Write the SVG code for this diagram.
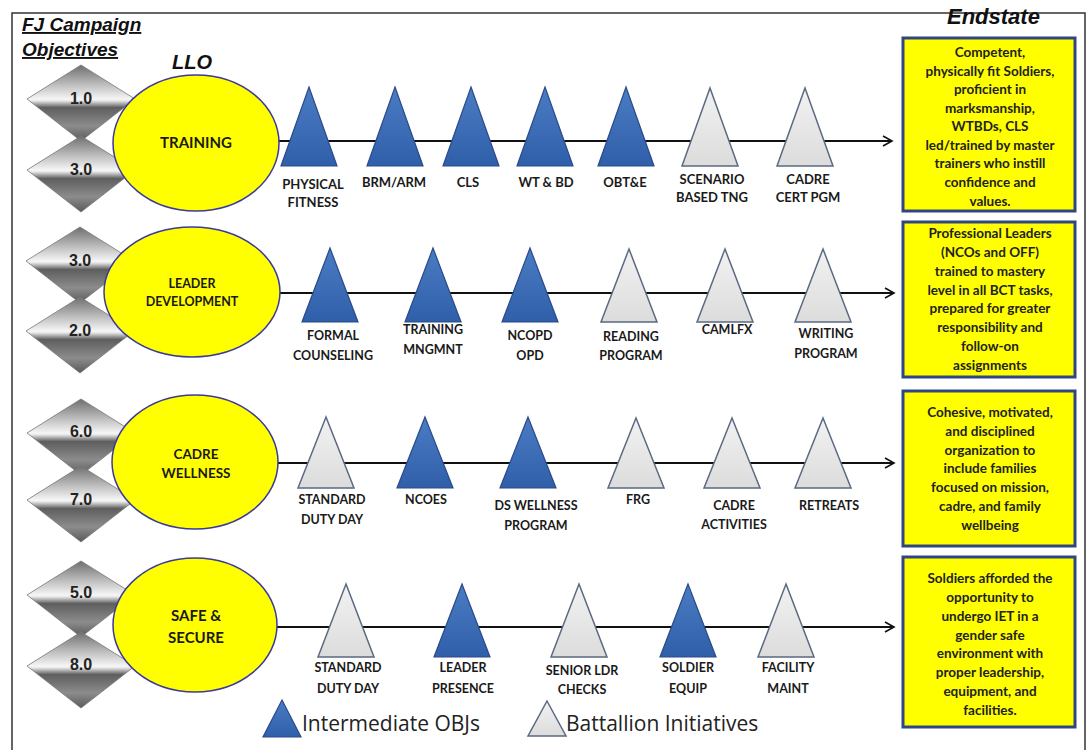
<svg xmlns="http://www.w3.org/2000/svg" width="1089" height="750" viewBox="0 0 1089 750">
<defs>
<linearGradient id="dg" x1="0" y1="0" x2="0" y2="1">
<stop offset="0" stop-color="#6e6e6e"/>
<stop offset="0.28" stop-color="#c4c4c4"/>
<stop offset="0.45" stop-color="#f6f6f6"/>
<stop offset="0.47" stop-color="#e8e8e8"/>
<stop offset="0.56" stop-color="#5e5e5e"/>
<stop offset="0.8" stop-color="#8c8c8c"/>
<stop offset="1" stop-color="#5a5a5a"/>
</linearGradient>
<linearGradient id="bg" x1="0" y1="0" x2="0" y2="1">
<stop offset="0" stop-color="#4a7cc4"/>
<stop offset="1" stop-color="#2f5fa8"/>
</linearGradient>
<linearGradient id="gg" x1="0" y1="0" x2="0" y2="1">
<stop offset="0" stop-color="#f2f2f2"/>
<stop offset="1" stop-color="#dcdcdc"/>
</linearGradient>
<marker id="arr" markerWidth="12" markerHeight="12" refX="10" refY="6" orient="auto" markerUnits="userSpaceOnUse">
<path d="M1,1 L10,6 L1,11" fill="none" stroke="#111" stroke-width="1.6"/>
</marker>
<symbol id="dia" viewBox="0 0 108 76" overflow="visible">
<polygon points="54,0 108,34 54,76 0,34" fill="url(#dg)" stroke="#777" stroke-width="0.8"/>
</symbol>
</defs>
<style>
.hdr{font-family:"Liberation Sans",Arial,sans-serif;font-weight:bold;font-style:italic;fill:#111}
.num{font-family:"Liberation Sans",Arial,sans-serif;font-weight:bold;font-size:16px;fill:#222;text-anchor:middle}
.ell{fill:#ffff00;stroke:#3a3a9a;stroke-width:1.5}
.lbl{font-family:Lato,"Open Sans",sans-serif;font-weight:bold;font-size:12.5px;fill:#1a1a1a;text-anchor:middle}
.r1{font-size:13px}
.e15{font-size:15px}
.e13{font-size:13.5px}
.blue{fill:url(#bg);stroke:#2a4a8a;stroke-width:1.2}
.gray{fill:url(#gg);stroke:#5a6a80;stroke-width:1.5}
.conn{stroke:#111;stroke-width:2;fill:none;marker-end:url(#arr)}
.box{fill:#ffff00;stroke:#2f4680;stroke-width:3}
.bt{font-family:Lato,"Open Sans",sans-serif;font-weight:bold;font-size:13.5px;fill:#222;text-anchor:middle}
.leg{font-family:"Open Sans",Lato,sans-serif;font-size:21px;fill:#222}
</style>
<rect x="0" y="0" width="1089" height="750" fill="#ffffff"/>
<rect x="12" y="13" width="1073" height="745" fill="none" stroke="#333" stroke-width="1.5"/>

<g id="header">
<text class="hdr" x="22" y="31" font-size="19" text-decoration="underline">FJ Campaign</text>
<text class="hdr" x="22" y="56" font-size="19" text-decoration="underline">Objectives</text>
<text class="hdr" x="172" y="69" font-size="20">LLO</text>
<text class="hdr" x="947" y="24" font-size="22">Endstate</text>
</g>

<g id="connectors">
<line class="conn" x1="278" y1="141" x2="892" y2="141"/>
<line class="conn" x1="280" y1="293" x2="894" y2="293"/>
<line class="conn" x1="277" y1="463" x2="894" y2="463"/>
<line class="conn" x1="277" y1="627" x2="894" y2="627"/>
</g>

<!-- Row 1 -->
<g id="obj-1-0"><use href="#dia" x="27" y="65" width="108" height="76"/><text class="num" x="81" y="104">1.0</text></g>
<g id="obj-3-0a"><use href="#dia" x="27" y="136" width="108" height="76"/><text class="num" x="81" y="175">3.0</text></g>
<g id="llo-training"><ellipse class="ell" cx="196" cy="143" rx="83" ry="68"/><text class="lbl e15" x="196" y="148">TRAINING</text></g>

<!-- Row 2 -->
<g id="obj-3-0b"><use href="#dia" x="26" y="227" width="108" height="76"/><text class="num" x="80" y="266">3.0</text></g>
<g id="obj-2-0"><use href="#dia" x="26" y="297" width="108" height="76"/><text class="num" x="80" y="336">2.0</text></g>
<g id="llo-leader"><ellipse class="ell" cx="192" cy="292" rx="88" ry="65"/><text class="lbl" x="192" y="288">LEADER</text><text class="lbl" x="192" y="306">DEVELOPMENT</text></g>

<!-- Row 3 -->
<g id="obj-6-0"><use href="#dia" x="27" y="399" width="108" height="76"/><text class="num" x="81" y="437">6.0</text></g>
<g id="obj-7-0"><use href="#dia" x="27" y="466" width="108" height="76"/><text class="num" x="81" y="505">7.0</text></g>
<g id="llo-cadre"><ellipse class="ell" cx="195" cy="462" rx="83" ry="67"/><text class="lbl e13" x="196" y="459">CADRE</text><text class="lbl e13" x="196" y="478">WELLNESS</text></g>

<!-- Row 4 -->
<g id="obj-5-0"><use href="#dia" x="27" y="561" width="108" height="76"/><text class="num" x="81" y="598">5.0</text></g>
<g id="obj-8-0"><use href="#dia" x="27" y="632" width="108" height="76"/><text class="num" x="81" y="670">8.0</text></g>
<g id="llo-safe"><ellipse class="ell" cx="195" cy="625" rx="82" ry="67"/><text class="lbl e15" x="196" y="621">SAFE &amp;</text><text class="lbl e15" x="196" y="643">SECURE</text></g>

<!-- Row 1 initiatives -->
<g id="r1-physical"><polygon class="blue" points="309,87 337,166 281,166"/><text class="lbl r1" x="313" y="189">PHYSICAL</text><text class="lbl r1" x="313" y="207">FITNESS</text></g>
<g id="r1-brm"><polygon class="blue" points="395,87 423,166 367,166"/><text class="lbl r1" x="394" y="187">BRM/ARM</text></g>
<g id="r1-cls"><polygon class="blue" points="471,87 499,166 443,166"/><text class="lbl r1" x="468" y="187">CLS</text></g>
<g id="r1-wt"><polygon class="blue" points="545,87 573,166 517,166"/><text class="lbl r1" x="546" y="187">WT &amp; BD</text></g>
<g id="r1-obt"><polygon class="blue" points="626,87 654,166 598,166"/><text class="lbl r1" x="625" y="187">OBT&amp;E</text></g>
<g id="r1-scen"><polygon class="gray" points="710,88 738,166 682,166"/><text class="lbl r1" x="712" y="184">SCENARIO</text><text class="lbl r1" x="712" y="202">BASED TNG</text></g>
<g id="r1-cadre"><polygon class="gray" points="805,88 833,166 777,166"/><text class="lbl r1" x="808" y="184">CADRE</text><text class="lbl r1" x="808" y="202">CERT PGM</text></g>

<!-- Row 2 initiatives -->
<g id="r2-formal"><polygon class="blue" points="330,248 358,322 302,322"/><text class="lbl" x="333" y="340">FORMAL</text><text class="lbl" x="333" y="360">COUNSELING</text></g>
<g id="r2-training"><polygon class="blue" points="433,248 461,322 405,322"/><text class="lbl" x="433" y="334">TRAINING</text><text class="lbl" x="433" y="354">MNGMNT</text></g>
<g id="r2-ncopd"><polygon class="blue" points="530,248 558,322 502,322"/><text class="lbl" x="530" y="340">NCOPD</text><text class="lbl" x="530" y="360">OPD</text></g>
<g id="r2-reading"><polygon class="gray" points="629,249 657,322 601,322"/><text class="lbl" x="631" y="341">READING</text><text class="lbl" x="631" y="360">PROGRAM</text></g>
<g id="r2-camlfx"><polygon class="gray" points="725,249 753,322 697,322"/><text class="lbl" x="727" y="334">CAMLFX</text></g>
<g id="r2-writing"><polygon class="gray" points="823,249 851,322 795,322"/><text class="lbl" x="826" y="338">WRITING</text><text class="lbl" x="826" y="358">PROGRAM</text></g>

<!-- Row 3 initiatives -->
<g id="r3-std"><polygon class="gray" points="326,417 354,488 298,488"/><text class="lbl" x="332" y="504">STANDARD</text><text class="lbl" x="332" y="524">DUTY DAY</text></g>
<g id="r3-ncoes"><polygon class="blue" points="425,417 453,488 397,488"/><text class="lbl" x="426" y="504">NCOES</text></g>
<g id="r3-ds"><polygon class="blue" points="528,417 556,488 500,488"/><text class="lbl" x="536" y="510">DS WELLNESS</text><text class="lbl" x="536" y="530">PROGRAM</text></g>
<g id="r3-frg"><polygon class="gray" points="636,418 664,488 608,488"/><text class="lbl" x="638" y="504">FRG</text></g>
<g id="r3-cadre"><polygon class="gray" points="732,418 760,488 704,488"/><text class="lbl" x="734" y="510">CADRE</text><text class="lbl" x="734" y="529">ACTIVITIES</text></g>
<g id="r3-retreats"><polygon class="gray" points="823,418 851,488 795,488"/><text class="lbl" x="829" y="510">RETREATS</text></g>

<!-- Row 4 initiatives -->
<g id="r4-std"><polygon class="gray" points="346,584 374,657 318,657"/><text class="lbl" x="348" y="672">STANDARD</text><text class="lbl" x="348" y="693">DUTY DAY</text></g>
<g id="r4-leader"><polygon class="blue" points="462,584 490,657 434,657"/><text class="lbl" x="463" y="672">LEADER</text><text class="lbl" x="463" y="693">PRESENCE</text></g>
<g id="r4-senior"><polygon class="gray" points="579,584 607,657 551,657"/><text class="lbl" x="582" y="675">SENIOR LDR</text><text class="lbl" x="582" y="694">CHECKS</text></g>
<g id="r4-soldier"><polygon class="blue" points="688,584 716,657 660,657"/><text class="lbl" x="688" y="672">SOLDIER</text><text class="lbl" x="688" y="693">EQUIP</text></g>
<g id="r4-facility"><polygon class="gray" points="786,584 814,657 758,657"/><text class="lbl" x="788" y="672">FACILITY</text><text class="lbl" x="788" y="693">MAINT</text></g>

<!-- Endstate boxes -->
<g id="end-1"><rect class="box" x="903" y="38" width="172" height="173"/>
<text class="bt" x="990" y="57">Competent,</text><text class="bt" x="990" y="76">physically fit Soldiers,</text><text class="bt" x="990" y="94">proficient in</text><text class="bt" x="990" y="113">marksmanship,</text><text class="bt" x="990" y="131">WTBDs, CLS</text><text class="bt" x="990" y="150">led/trained by master</text><text class="bt" x="990" y="168">trainers who instill</text><text class="bt" x="990" y="187">confidence and</text><text class="bt" x="990" y="206">values.</text></g>
<g id="end-2"><rect class="box" x="903" y="222" width="172" height="155"/>
<text class="bt" x="990" y="238">Professional Leaders</text><text class="bt" x="990" y="257">(NCOs and OFF)</text><text class="bt" x="990" y="276">trained to mastery</text><text class="bt" x="990" y="295">level in all BCT tasks,</text><text class="bt" x="990" y="313">prepared for greater</text><text class="bt" x="990" y="332">responsibility and</text><text class="bt" x="990" y="351">follow-on</text><text class="bt" x="990" y="370">assignments</text></g>
<g id="end-3"><rect class="box" x="903" y="391" width="172" height="155"/>
<text class="bt" x="990" y="417">Cohesive, motivated,</text><text class="bt" x="990" y="436">and disciplined</text><text class="bt" x="990" y="455">organization to</text><text class="bt" x="990" y="473">include families</text><text class="bt" x="990" y="492">focused on mission,</text><text class="bt" x="990" y="511">cadre, and family</text><text class="bt" x="990" y="530">wellbeing</text></g>
<g id="end-4"><rect class="box" x="903" y="557" width="172" height="170"/>
<text class="bt" x="990" y="583">Soldiers afforded the</text><text class="bt" x="990" y="602">opportunity to</text><text class="bt" x="990" y="621">undergo IET in a</text><text class="bt" x="990" y="640">gender safe</text><text class="bt" x="990" y="658">environment with</text><text class="bt" x="990" y="677">proper leadership,</text><text class="bt" x="990" y="696">equipment, and</text><text class="bt" x="990" y="715">facilities.</text></g>

<!-- Legend -->
<g id="legend">
<polygon class="blue" points="282,700 301,737 263,737"/>
<text class="leg" x="302" y="731">Intermediate OBJs</text>
<polygon class="gray" points="547,701 566,736 528,736"/>
<text class="leg" x="566" y="731">Battallion Initiatives</text>
</g>
</svg>
